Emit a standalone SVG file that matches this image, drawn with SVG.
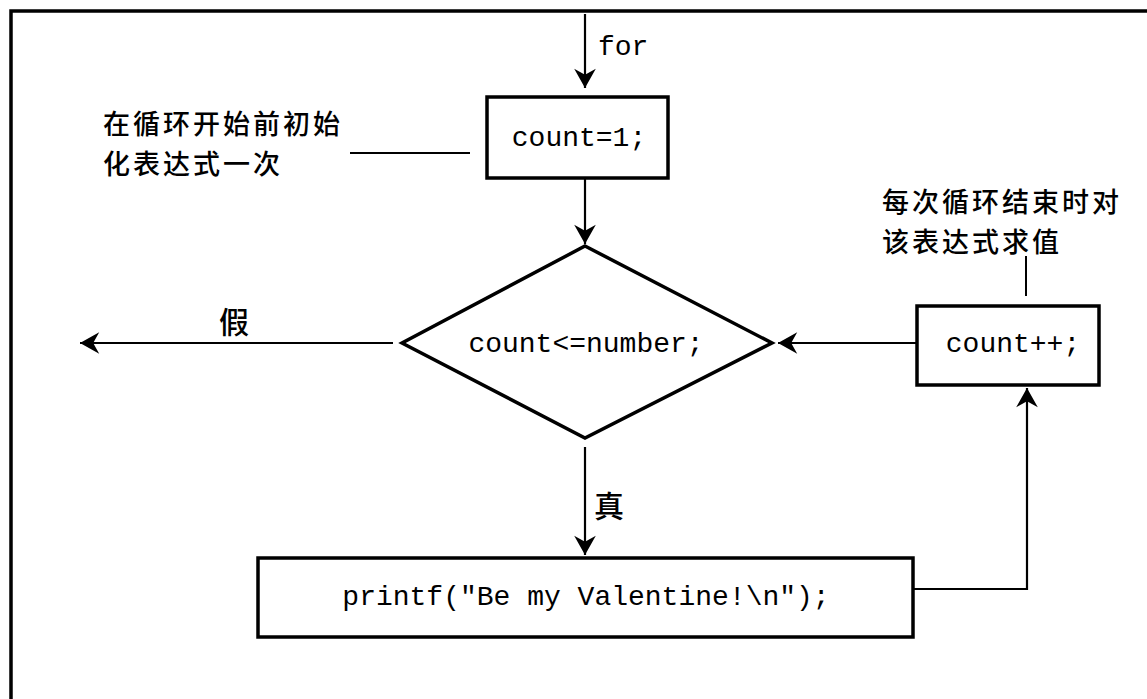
<svg xmlns="http://www.w3.org/2000/svg" width="1147" height="699" viewBox="0 0 1147 699">
<defs>
<marker id="ah" markerUnits="userSpaceOnUse" markerWidth="24" markerHeight="24" viewBox="-18 -10 20 20" refX="0" refY="0" orient="auto">
<path d="M0,0 L-16,-9 L-11,0 L-16,9 Z" fill="#000"/>
</marker>
<style>
.box{fill:#fff;stroke:#000;stroke-width:3.5}
.con{fill:none;stroke:#000;stroke-width:2.2}
.ln{fill:none;stroke:#000;stroke-width:2}
.code{font-family:"Liberation Mono","Courier New",monospace;font-size:28px;fill:#000}
.cjk{font-family:"Noto Sans CJK SC","Noto Sans CJK TC",sans-serif;font-size:30px;font-weight:500;fill:#000}
.note{font-family:"Noto Sans CJK SC","Noto Sans CJK TC",sans-serif;font-size:27px;font-weight:500;letter-spacing:3px;fill:#000}
</style>
</defs>
<rect width="1147" height="699" fill="#fff"/>
<path d="M11,699 V11 H1147" fill="none" stroke="#000" stroke-width="3.5"/>

<g id="connectors">
<line class="con" x1="585" y1="14" x2="585" y2="88" marker-end="url(#ah)"/>
<line class="con" x1="585" y1="178" x2="585" y2="244" marker-end="url(#ah)"/>
<line class="con" x1="393" y1="343" x2="80" y2="343" marker-end="url(#ah)"/>
<line class="con" x1="917" y1="343" x2="778" y2="343" marker-end="url(#ah)"/>
<line class="con" x1="585" y1="447" x2="585" y2="555" marker-end="url(#ah)"/>
<path class="con" d="M913,589 H1027 V388" marker-end="url(#ah)"/>
<line class="ln" x1="350" y1="153" x2="470" y2="153"/>
<line class="ln" x1="1026" y1="256" x2="1026" y2="296"/>
</g>

<g id="label-for"><text class="code" x="598" y="55">for</text></g>

<g id="init">
<rect class="box" x="487" y="97" width="181" height="81"/>
<text class="code" x="579" y="146" text-anchor="middle">count=1;</text>
</g>

<g id="note-init">
<text class="note"><tspan x="103" y="134">在循环开始前初始</tspan><tspan x="103" y="174">化表达式一次</tspan></text>
</g>

<g id="cond">
<polygon class="box" points="585,246 772,343 585,438 402,343"/>
<text class="code" x="586" y="352" text-anchor="middle">count&lt;=number;</text>
</g>

<g id="label-false"><text class="cjk" x="234" y="333" text-anchor="middle">假</text></g>

<g id="update">
<rect class="box" x="917" y="306" width="182" height="79"/>
<text class="code" x="1013" y="352" text-anchor="middle">count++;</text>
</g>

<g id="note-update">
<text class="note"><tspan x="882" y="212">每次循环结束时对</tspan><tspan x="882" y="252">该表达式求值</tspan></text>
</g>

<g id="label-true"><text class="cjk" x="594" y="517">真</text></g>

<g id="body">
<rect class="box" x="258" y="558" width="655" height="79"/>
<text class="code" x="586" y="605" text-anchor="middle">printf("Be my Valentine!\n");</text>
</g>
</svg>
